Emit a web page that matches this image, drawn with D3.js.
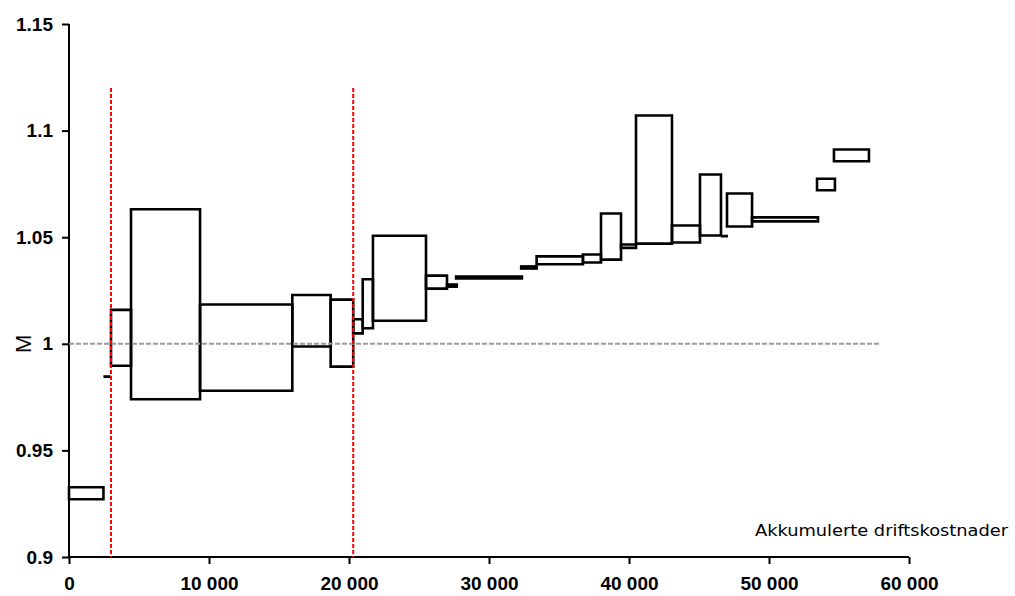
<!DOCTYPE html>
<html>
<head>
<meta charset="utf-8">
<script src="https://cdn.jsdelivr.net/npm/d3@7"></script>
<style>
  body { margin: 0; background: #fff; }
  .tick text { font-family: "Liberation Sans", Arial, sans-serif; font-weight: bold; font-size: 19px; fill: #000; }
</style>
</head>
<body>
<svg width="1015" height="596"></svg>
<script>
// accumulated cost interval (x) and index interval (M) for each unit
var xStart = [0, 2460, 3000, 4430, 9360, 15950, 18690, 20300, 20980, 21710, 25500, 27000, 27650, 32300, 33400, 36710, 38000, 39430, 40500, 43070, 45070, 46570, 47000, 48790, 53430, 54640];
var xEnd   = [2460, 2980, 4430, 9360, 15950, 18690, 20300, 20980, 21710, 25500, 27000, 27700, 32350, 33400, 36710, 38000, 39430, 40500, 43070, 45070, 46570, 47070, 48790, 53500, 54710, 57140];
var mLow   = [0.9271, 0.9846, 0.9897, 0.9740, 0.9780, 0.9987, 0.9893, 1.0049, 1.0073, 1.0108, 1.0259, 1.0268, 1.0306, 1.0353, 1.0373, 1.0381, 1.0395, 1.0450, 1.0470, 1.0475, 1.0508, 1.0505, 1.0550, 1.0574, 1.0720, 1.0856];
var mHigh  = [0.9327, 0.9846, 1.0159, 1.0631, 1.0184, 1.0229, 1.0207, 1.0115, 1.0303, 1.0507, 1.0320, 1.0278, 1.0316, 1.0363, 1.0410, 1.0419, 1.0611, 1.0466, 1.1071, 1.0555, 1.0794, 1.0505, 1.0705, 1.0593, 1.0774, 1.0911];

var yTicks = [0.9, 0.95, 1, 1.05, 1.1, 1.15];
var xTicks = [0, 10000, 20000, 30000, 40000, 50000, 60000];
var redLines = [3000, 20300];
var refLevel = 1;
var refEnd = 58000;

var svg = d3.select('svg');

var xScale = d3.scaleLinear().domain([0, 60000]).range([69, 909]);
var yScale = d3.scaleLinear().domain([0.9, 1.15]).range([557, 24]);

var fmt = function(d) { return d3.format(',')(d).replace(/,/g, ' '); };

// y axis
var yAxis = svg.append('g')
  .attr('transform', 'translate(69,0)')
  .call(d3.axisLeft(yScale).tickValues(yTicks).tickSize(7).tickPadding(9).tickFormat(function(d) { return String(d); }));
yAxis.select('.domain').attr('stroke', '#000').attr('stroke-width', 2).attr('d', 'M0,' + yScale(1.15) + 'V' + yScale(0.9));
yAxis.selectAll('.tick line').attr('stroke', '#000').attr('stroke-width', 2);

// x axis
var xAxis = svg.append('g')
  .attr('transform', 'translate(0,557)')
  .call(d3.axisBottom(xScale).tickValues(xTicks).tickSize(7).tickPadding(13).tickFormat(fmt));
xAxis.select('.domain').attr('stroke', '#000').attr('stroke-width', 2).attr('d', 'M' + xScale(0) + ',0H' + xScale(60000));
xAxis.selectAll('.tick line').attr('stroke', '#000').attr('stroke-width', 2);

// boxes
var idx = d3.range(xStart.length);
svg.append('g').selectAll('path')
  .data(idx)
  .enter()
  .append('path')
  .attr('d', function(i) {
    var x0 = xScale(xStart[i]), x1 = xScale(xEnd[i]);
    var y0 = yScale(mLow[i]), y1 = yScale(mHigh[i]);
    return 'M' + x0 + ',' + y0 + 'L' + x1 + ',' + y0 + 'L' + x1 + ',' + y1 + 'L' + x0 + ',' + y1 + 'Z';
  })
  .attr('fill', 'none')
  .attr('stroke', '#000')
  .attr('stroke-width', 2.6);

// reference line at M = 1
svg.append('line')
  .attr('x1', xScale(0)).attr('x2', xScale(refEnd))
  .attr('y1', yScale(refLevel)).attr('y2', yScale(refLevel))
  .attr('stroke', '#999')
  .attr('stroke-width', 2)
  .attr('stroke-dasharray', '5,2');

// red dashed separators
svg.append('g').selectAll('line')
  .data(redLines)
  .enter()
  .append('line')
  .attr('x1', function(d) { return xScale(d); })
  .attr('x2', function(d) { return xScale(d); })
  .attr('y1', yScale(1.12))
  .attr('y2', yScale(0.9))
  .attr('stroke', '#ff0000')
  .attr('stroke-width', 2)
  .attr('stroke-dasharray', '4,2');

// axis titles
svg.append('text')
  .text('M')
  .attr('text-anchor', 'middle')
  .attr('font-family', 'Liberation Sans, Arial, sans-serif')
  .attr('font-size', '22px')
  .attr('transform', 'translate(31,' + yScale(1) + ')rotate(-90)');

svg.append('text')
  .text('Akkumulerte driftskostnader')
  .attr('text-anchor', 'end')
  .attr('x', 1008)
  .attr('y', 536)
  .attr('font-family', 'DejaVu Sans Condensed, DejaVu Sans, sans-serif')
  .attr('font-size', '16px')
  .attr('textLength', 253)
  .attr('lengthAdjust', 'spacingAndGlyphs');
</script>
</body>
</html>
